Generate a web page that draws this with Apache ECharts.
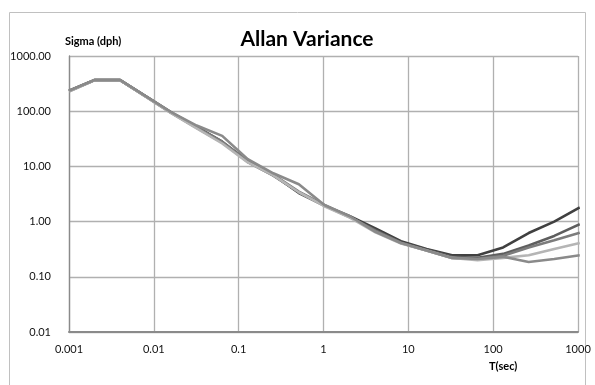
<!DOCTYPE html>
<html>
<head>
<meta charset="utf-8">
<script src="https://cdn.jsdelivr.net/npm/echarts@6/dist/echarts.min.js"></script>
<style>
  html, body { margin: 0; padding: 0; background: #fff; }
  #chart { width: 595px; height: 385px; }
</style>
</head>
<body>
<div id="chart"></div>
<script>
// Averaging times (s), octave spacing from 1 ms
const tau = [0.001, 0.002, 0.004, 0.008, 0.016, 0.032, 0.064, 0.128, 0.256, 0.512,
             1.024, 2.048, 4.096, 8.192, 16.384, 32.768, 65.536, 131.072, 262.144, 524.288, 1048.576];

// Allan deviation per run (dph)
const run1 = [234, 367, 367, 188, 95, 52, 28, 12.5, 7.0, 3.3, 1.95, 1.25, 0.75, 0.44, 0.32, 0.245, 0.245, 0.34, 0.62, 1.0, 1.8];
const run2 = [230, 365, 365, 185, 93, 50, 27, 12.0, 6.8, 3.4, 1.95, 1.20, 0.70, 0.42, 0.31, 0.23, 0.22, 0.26, 0.37, 0.55, 0.90];
const run3 = [232, 366, 366, 186, 94, 51, 28, 12.3, 7.1, 3.5, 2.0, 1.22, 0.68, 0.41, 0.30, 0.22, 0.21, 0.24, 0.34, 0.46, 0.63];
const run4 = [228, 364, 364, 183, 92, 49, 26, 11.8, 6.9, 3.4, 1.9, 1.18, 0.64, 0.40, 0.30, 0.22, 0.20, 0.22, 0.245, 0.32, 0.41];
const run5 = [235, 368, 368, 187, 96, 55, 35.7, 13.5, 7.5, 4.75, 2.0, 1.25, 0.65, 0.41, 0.30, 0.22, 0.21, 0.23, 0.185, 0.21, 0.245];

const runs = [run1, run2, run3, run4, run5];
const runColors = ['#404040', '#5e5e5e', '#7c7c7c', '#b5b5b5', '#8a8a8a'];

// Tick labels per decade
const xTickLabels = ['0.001', '0.01', '0.1', '1', '10', '100', '1000'];
const yTickLabels = ['0.01', '0.10', '1.00', '10.00', '100.00', '1000.00'];

const FONT = 'Lato, "Open Sans", sans-serif';

function pick(labels, lowExp) {
  return function (v) {
    const i = Math.round(Math.log10(v)) - lowExp;
    return labels[i] !== undefined ? labels[i] : '';
  };
}

const chart = echarts.init(document.getElementById('chart'), null, { renderer: 'canvas' });

chart.setOption({
  animation: false,
  backgroundColor: '#ffffff',
  title: {
    text: 'Allan Variance',
    left: 302,
    textAlign: 'center',
    top: 24,
    textStyle: { fontFamily: FONT, fontSize: 21, fontWeight: 'bold', color: '#000' }
  },
  graphic: [
    {
      type: 'rect',
      shape: { x: 9.5, y: 12.5, width: 576, height: 380 },
      style: { fill: null, stroke: '#c0c0c0', lineWidth: 1 },
      silent: true, z: -1
    },
    {
      type: 'text', left: 65, top: 36,
      style: { text: 'Sigma (dph)', fontFamily: FONT, fontSize: 11, fontWeight: 'bold', fill: '#000' }
    },
    {
      type: 'text', left: 489, top: 361,
      style: { text: 'T(sec)', fontFamily: FONT, fontSize: 11, fontWeight: 'bold', fill: '#000' }
    }
  ],
  grid: { left: 69, right: 17, top: 56, bottom: 53, containLabel: false },
  xAxis: {
    type: 'log',
    logBase: 10,
    min: 0.001,
    max: 1000,
    axisLine: { show: true, lineStyle: { color: '#8a8a8a', width: 2 } },
    axisTick: { show: false },
    splitLine: { show: true, lineStyle: { color: '#b0b0b0', width: 1.3 } },
    axisLabel: {
      formatter: pick(xTickLabels, -3),
      fontFamily: FONT, fontSize: 11, color: '#111', margin: 12,
      showMinLabel: true, showMaxLabel: true
    }
  },
  yAxis: {
    type: 'log',
    logBase: 10,
    min: 0.01,
    max: 1000,
    axisLine: { show: true, lineStyle: { color: '#8a8a8a', width: 1.3 } },
    axisTick: { show: false },
    splitLine: { show: true, lineStyle: { color: '#b0b0b0', width: 1.3 } },
    axisLabel: {
      formatter: pick(yTickLabels, -2),
      fontFamily: FONT, fontSize: 11, color: '#111', margin: 18
    }
  },
  // later runs are drawn over earlier ones
  series: runs.map((vals, k) => ({
    type: 'line',
    name: 'run' + (k + 1),
    data: tau.map((t, i) => [t, vals[i]]),
    showSymbol: false,
    clip: true,
    lineStyle: { color: runColors[k], width: 2.6 },
    z: 2 + k
  }))
});
</script>
</body>
</html>
